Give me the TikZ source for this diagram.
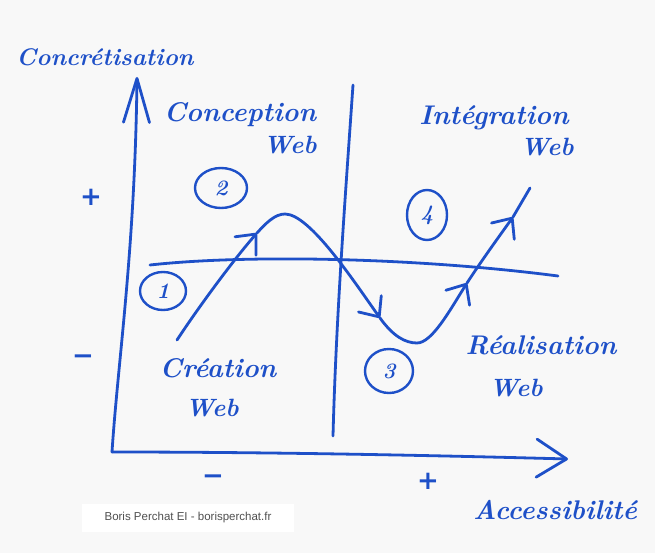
\documentclass[tikz,border=0pt]{standalone}
\usepackage{fontspec}
\newfontfamily\wmfont{Liberation Sans}
\newfontfamily\signfont{DejaVu Sans}
\usetikzlibrary{arrows.meta,shapes.geometric}
\definecolor{ink}{RGB}{30,80,200}
\definecolor{paper}{RGB}{248,248,248}
\definecolor{wmgray}{RGB}{80,80,80}
\tikzset{
 pen/.style={draw=ink, line width=2.8pt, line cap=round, line join=round},
 hand/.style={text=ink, inner sep=0pt, font=\fontsize{#1}{#1}\selectfont\bfseries\itshape},
 hand/.default=26,
 sign/.style={text=ink, inner sep=0pt, font=\signfont\fontsize{#1}{#1}\selectfont\bfseries},
 sign/.default=26,
 num/.style={ellipse, draw=ink, line width=2.4pt, text=ink, inner sep=0pt, font=\fontsize{22}{22}\selectfont\bfseries\itshape},
 midtip/.style={-{Straight Barb[length=16pt,width=28pt,round]}},
}
\begin{document}
\begin{tikzpicture}[x=1pt,y=-1pt]
\useasboundingbox (0,0) rectangle (655,553);
\fill[paper] (0,0) rectangle (655,553);

% axes and dividers
\coordinate (O) at (112,452);
\coordinate (ytop) at (137,77);
\coordinate (xend) at (568,459);
\coordinate (vtop) at (353,85);
\coordinate (vbot) at (333,436);
\coordinate (hl) at (150,265);
\coordinate (hr) at (558,276);
\draw[pen, -{Straight Barb[length=44pt,width=26pt,round]}] (O) .. controls (118,360) and (135,250) .. (ytop);
\draw[pen, -{Straight Barb[length=30pt,width=38pt,round]}] (O) .. controls (260,452) and (420,455) .. (xend);
\draw[pen] (vtop) .. controls (345,200) and (336,320) .. (vbot);
\draw[pen] (hl) .. controls (250,254) and (420,258) .. (hr);

% wave curve
\coordinate (s0) at (177,340);
\coordinate (t1) at (257,233);
\coordinate (pk) at (285,214);
\coordinate (t2) at (380,318);
\coordinate (mn) at (417,343);
\coordinate (t3) at (467,283);
\coordinate (t4) at (513,217);
\coordinate (s5) at (530,188);
\draw[pen, midtip] (s0) .. controls (200,305) and (235,258) .. (t1);
\draw[pen, midtip] (t1) .. controls (266,223) and (275,214) .. (pk) .. controls (310,214) and (355,283) .. (t2);
\draw[pen, midtip] (t2) .. controls (393,336) and (405,343) .. (mn) .. controls (432,343) and (450,310) .. (t3);
\draw[pen, midtip] (t3) .. controls (482,260) and (498,238) .. (t4);
\draw[pen] (t4) -- (s5);

% circled numbers
\node[num, minimum width=46pt, minimum height=38pt] (n1) at (163,291) {1};
\node[num, minimum width=52pt, minimum height=40pt] (n2) at (221,188) {2};
\node[num, minimum width=48pt, minimum height=44pt] (n3) at (389,371) {3};
\node[num, minimum width=40pt, minimum height=50pt] (n4) at (427,215) {4};

% handwritten labels
\node[hand=24] (conc) at (105,57) {Concrétisation};
\node[hand=27] (concep) at (240,115) {Conception};
\node[hand=25] (concepw) at (290,145) {Web};
\node[hand=27] (integ) at (494,118) {Intégration};
\node[hand=25] (integw) at (547,147) {Web};
\node[hand=27] (crea) at (218,368) {Création};
\node[hand=25] (creaw) at (212,408) {Web};
\node[hand=27] (real) at (541,345) {Réalisation};
\node[hand=25] (realw) at (516,388) {Web};
\node[hand=27] (acc) at (555,510) {Accessibilité};

% signs
\node[sign=26] (p1) at (91,197) {+};
\node[sign=26] (m1) at (83,360) {−};
\node[sign=26] (m2) at (213,480) {−};
\node[sign=26] (p2) at (428,481) {+};

% watermark
\node[fill=white, text=wmgray, font=\wmfont\fontsize{11.5}{12}\selectfont, minimum width=212pt, minimum height=28pt, inner sep=0pt] (wm) at (188,518) {Boris Perchat EI - borisperchat.fr};
\end{tikzpicture}
\end{document}
